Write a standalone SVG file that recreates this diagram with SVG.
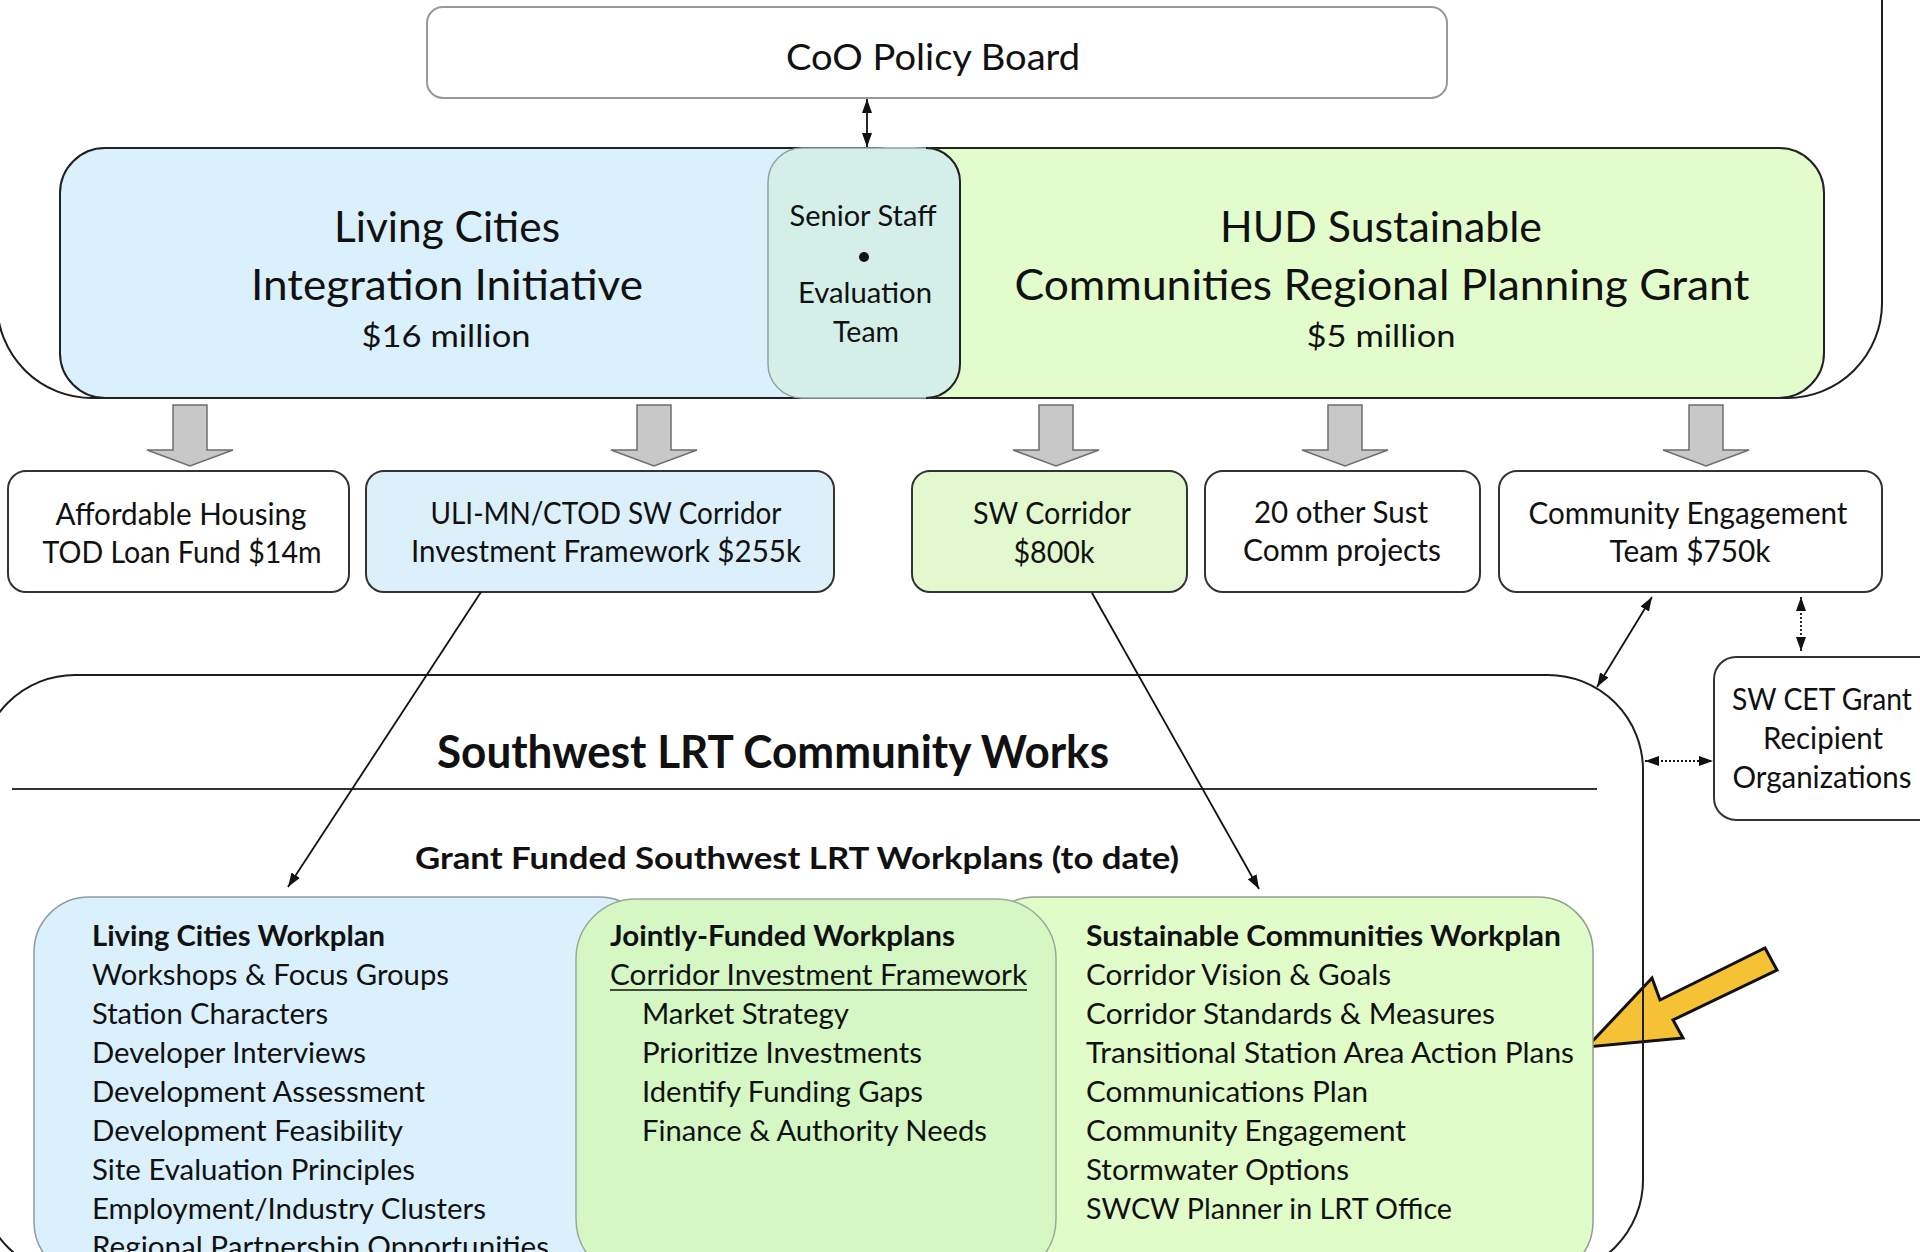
<svg xmlns="http://www.w3.org/2000/svg" width="1920" height="1252" viewBox="0 0 1920 1252">
<style>
text{font-family:Lato,"Open Sans","Liberation Sans",sans-serif;fill:#111}
.t42{font-size:42px}
.t31{font-size:31px}
.t30{font-size:30px}
.t29{font-size:29px}
.b{font-weight:bold}
.m{text-anchor:middle}
.frame{fill:none;stroke:#1e1e1e;stroke-width:2}
.box{fill:#fff;stroke:#333;stroke-width:2}
.conn{fill:none;stroke:#111;stroke-width:1.8}
.dot{fill:none;stroke:#111;stroke-width:1.8;stroke-dasharray:2 2}
.garrow{fill:#c8c8c8;stroke:#6e6e6e;stroke-width:1.5}
</style>
<defs>
<marker id="ah" viewBox="0 0 14 10" refX="14" refY="5" markerWidth="14" markerHeight="10" markerUnits="userSpaceOnUse" orient="auto-start-reverse">
<path d="M0,0 L14,5 L0,10 z" fill="#111"/>
</marker>
<path id="down" d="M-17,405 L17,405 L17,450 L43,450 L0,466 L-43,450 L-17,450 Z"/>
</defs>
<rect width="1920" height="1252" fill="#fff"/>

<!-- outer top frame -->
<rect class="frame" x="-3" y="-300" width="1885" height="698" rx="95"/>

<g id="coo-policy-board">
<rect x="427" y="7" width="1020" height="91" rx="16" fill="#fff" stroke="#999" stroke-width="2"/>
<text x="933" y="70" class="m" style="font-size:36px" textLength="294" lengthAdjust="spacingAndGlyphs">CoO Policy Board</text>
</g>

<g id="living-cities">
<rect x="60" y="148" width="860" height="250" rx="45" fill="#daf0fc" stroke="#222" stroke-width="2"/>
<text x="447" y="242" class="t42 m" textLength="226" lengthAdjust="spacingAndGlyphs">Living Cities</text>
<text x="447" y="300" class="t42 m" textLength="392" lengthAdjust="spacingAndGlyphs">Integration Initiative</text>
<text x="446" y="347" class="t31 m" textLength="169" lengthAdjust="spacingAndGlyphs">$16 million</text>
</g>

<g id="hud-grant">
<rect x="880" y="148" width="944" height="250" rx="45" fill="#e2fccb" stroke="#222" stroke-width="2"/>
<text x="1381" y="242" class="t42 m" textLength="322" lengthAdjust="spacingAndGlyphs">HUD Sustainable</text>
<text x="1382" y="300" class="t42 m" textLength="735" lengthAdjust="spacingAndGlyphs">Communities Regional Planning Grant</text>
<text x="1381" y="347" class="t31 m" textLength="149" lengthAdjust="spacingAndGlyphs">$5 million</text>
</g>

<g id="senior-staff">
<rect x="768" y="148" width="192" height="250" rx="34" fill="#d3efe8" stroke="#8fa5a2" stroke-width="1.5"/>
<path d="M926,148 A34,34 0 0 1 960,182 L960,364 A34,34 0 0 1 926,398" fill="none" stroke="#222" stroke-width="2"/>
<text x="863" y="226" class="m" style="font-size:28px" textLength="147" lengthAdjust="spacingAndGlyphs">Senior Staff</text>
<circle cx="864" cy="257" r="5" fill="#111"/>
<text x="865" y="303" class="m" style="font-size:28px" textLength="134" lengthAdjust="spacingAndGlyphs">Evaluation</text>
<text x="866" y="342" class="m" style="font-size:28px" textLength="66" lengthAdjust="spacingAndGlyphs">Team</text>
</g>

<g id="funding-arrows">
<use href="#down" class="garrow" transform="translate(190,0)"/>
<use href="#down" class="garrow" transform="translate(654,0)"/>
<use href="#down" class="garrow" transform="translate(1056,0)"/>
<use href="#down" class="garrow" transform="translate(1345,0)"/>
<use href="#down" class="garrow" transform="translate(1706,0)"/>
</g>

<g id="affordable-housing">
<rect class="box" x="8" y="471" width="341" height="121" rx="18"/>
<text x="181" y="525" class="t30 m" textLength="251" lengthAdjust="spacingAndGlyphs">Affordable Housing</text>
<text x="182" y="563" class="t30 m" textLength="279" lengthAdjust="spacingAndGlyphs">TOD Loan Fund $14m</text>
</g>

<g id="uli-mn">
<rect class="box" x="366" y="471" width="468" height="121" rx="18" style="fill:#dcf0fb"/>
<text x="606" y="524" class="t30 m" textLength="351" lengthAdjust="spacingAndGlyphs">ULI-MN/CTOD SW Corridor</text>
<text x="606" y="562" class="t30 m" textLength="390" lengthAdjust="spacingAndGlyphs">Investment Framework $255k</text>
</g>

<g id="sw-corridor">
<rect class="box" x="912" y="471" width="275" height="121" rx="18" style="fill:#e2f8cf"/>
<text x="1052" y="524" class="t30 m" textLength="158" lengthAdjust="spacingAndGlyphs">SW Corridor</text>
<text x="1054" y="563" class="t30 m" textLength="81" lengthAdjust="spacingAndGlyphs">$800k</text>
</g>

<g id="other-projects">
<rect class="box" x="1205" y="471" width="275" height="121" rx="18"/>
<text x="1341" y="523" class="t30 m" textLength="174" lengthAdjust="spacingAndGlyphs">20 other Sust</text>
<text x="1342" y="561" class="t30 m" textLength="198" lengthAdjust="spacingAndGlyphs">Comm projects</text>
</g>

<g id="community-engagement-team">
<rect class="box" x="1499" y="471" width="383" height="121" rx="18"/>
<text x="1688" y="524" class="t30 m" textLength="319" lengthAdjust="spacingAndGlyphs">Community Engagement</text>
<text x="1690" y="562" class="t30 m" textLength="161" lengthAdjust="spacingAndGlyphs">Team $750k</text>
</g>

<g id="sw-cet">
<rect class="box" x="1714" y="657" width="230" height="163" rx="22"/>
<text x="1822" y="710" class="t30 m" textLength="180" lengthAdjust="spacingAndGlyphs">SW CET Grant</text>
<text x="1823" y="749" class="t30 m" textLength="120" lengthAdjust="spacingAndGlyphs">Recipient</text>
<text x="1822" y="788" class="t30 m" textLength="179" lengthAdjust="spacingAndGlyphs">Organizations</text>
</g>

<g id="highlight-arrow">
<polygon points="1587,1047 1652,978 1660,1000 1765,948 1777,970 1673,1020 1683,1038" fill="#f5c236" stroke="#111" stroke-width="3" stroke-linejoin="miter"/>
</g>

<g id="southwest-lrt-community-works">
<rect class="frame" x="-20" y="675" width="1663" height="600" rx="95"/>
<line x1="12" y1="789" x2="1597" y2="789" stroke="#333" stroke-width="2"/>
<text x="773" y="768" class="b m" style="font-size:45px" textLength="672" lengthAdjust="spacingAndGlyphs">Southwest LRT Community Works</text>
<text x="797" y="869" class="b m" style="font-size:31px" textLength="764" lengthAdjust="spacingAndGlyphs">Grant Funded Southwest LRT Workplans (to date)</text>
</g>

<g id="living-cities-workplan">
<rect x="34" y="897" width="620" height="380" rx="55" fill="#daf0fc" stroke="#8e9ca2" stroke-width="1.5"/>
<text x="92" y="946" class="t29 b" textLength="293" lengthAdjust="spacingAndGlyphs">Living Cities Workplan</text>
<text x="92" y="985" class="t29" textLength="357" lengthAdjust="spacingAndGlyphs">Workshops &amp; Focus Groups</text>
<text x="92" y="1024" class="t29" textLength="236" lengthAdjust="spacingAndGlyphs">Station Characters</text>
<text x="92" y="1063" class="t29" textLength="274" lengthAdjust="spacingAndGlyphs">Developer Interviews</text>
<text x="92" y="1102" class="t29" textLength="333" lengthAdjust="spacingAndGlyphs">Development Assessment</text>
<text x="92" y="1141" class="t29" textLength="311" lengthAdjust="spacingAndGlyphs">Development Feasibility</text>
<text x="92" y="1180" class="t29" textLength="323" lengthAdjust="spacingAndGlyphs">Site Evaluation Principles</text>
<text x="92" y="1219" class="t29" textLength="394" lengthAdjust="spacingAndGlyphs">Employment/Industry Clusters</text>
<text x="92" y="1257" class="t29" textLength="457" lengthAdjust="spacingAndGlyphs">Regional Partnership Opportunities</text>
</g>

<g id="sustainable-communities-workplan">
<rect x="980" y="897" width="613" height="380" rx="55" fill="#e0fcc9" stroke="#929e8e" stroke-width="1.5"/>
<text x="1086" y="946" class="t29 b" textLength="475" lengthAdjust="spacingAndGlyphs">Sustainable Communities Workplan</text>
<text x="1086" y="985" class="t29" textLength="305" lengthAdjust="spacingAndGlyphs">Corridor Vision &amp; Goals</text>
<text x="1086" y="1024" class="t29" textLength="409" lengthAdjust="spacingAndGlyphs">Corridor Standards &amp; Measures</text>
<text x="1086" y="1063" class="t29" textLength="488" lengthAdjust="spacingAndGlyphs">Transitional Station Area Action Plans</text>
<text x="1086" y="1102" class="t29" textLength="282" lengthAdjust="spacingAndGlyphs">Communications Plan</text>
<text x="1086" y="1141" class="t29" textLength="320" lengthAdjust="spacingAndGlyphs">Community Engagement</text>
<text x="1086" y="1180" class="t29" textLength="263" lengthAdjust="spacingAndGlyphs">Stormwater Options</text>
<text x="1086" y="1219" class="t29" textLength="366" lengthAdjust="spacingAndGlyphs">SWCW Planner in LRT Office</text>
</g>

<g id="jointly-funded-workplans">
<rect x="576" y="899" width="480" height="380" rx="60" fill="#d4f7c4" stroke="#9aaa98" stroke-width="1.5"/>
<text x="610" y="946" class="t29 b" textLength="345" lengthAdjust="spacingAndGlyphs">Jointly-Funded Workplans</text>
<text x="610" y="985" class="t29" textLength="417" lengthAdjust="spacingAndGlyphs">Corridor Investment Framework</text>
<line x1="610" y1="990" x2="1027" y2="990" stroke="#111" stroke-width="1.6"/>
<text x="642" y="1024" class="t29" textLength="207" lengthAdjust="spacingAndGlyphs">Market Strategy</text>
<text x="642" y="1063" class="t29" textLength="280" lengthAdjust="spacingAndGlyphs">Prioritize Investments</text>
<text x="642" y="1102" class="t29" textLength="281" lengthAdjust="spacingAndGlyphs">Identify Funding Gaps</text>
<text x="642" y="1141" class="t29" textLength="345" lengthAdjust="spacingAndGlyphs">Finance &amp; Authority Needs</text>
</g>

<g id="connectors">
<line class="conn" x1="867" y1="99" x2="867" y2="147" marker-start="url(#ah)" marker-end="url(#ah)"/>
<line class="conn" x1="481" y1="592" x2="288" y2="887" marker-end="url(#ah)"/>
<line class="conn" x1="1092" y1="593" x2="1259" y2="889" marker-end="url(#ah)"/>
<line class="conn" x1="1652" y1="597" x2="1597" y2="687" marker-start="url(#ah)" marker-end="url(#ah)"/>
<line class="dot" x1="1801" y1="597" x2="1801" y2="651" marker-start="url(#ah)" marker-end="url(#ah)"/>
<line class="dot" x1="1645" y1="761" x2="1713" y2="761" marker-start="url(#ah)" marker-end="url(#ah)"/>
</g>
</svg>
